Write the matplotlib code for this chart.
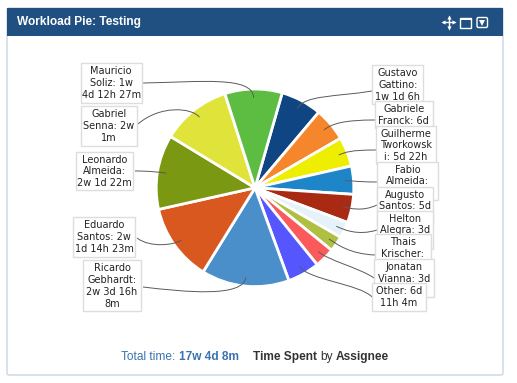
import numpy as np
import matplotlib
matplotlib.use('Agg')
import matplotlib.pyplot as plt
from matplotlib.patches import Rectangle, FancyBboxPatch, PathPatch
from matplotlib.path import Path

W, H = 517, 383

# hours per assignee, clockwise (hidden parts of clipped labels are estimated)
hours = [198, 162, 142, 136, 137, 78, 75, 97, 155.07, 424.13, 374.4, 360, 336, 276.45]
colors = ['#0f4583', '#f6862b', '#eeee00', '#1e86c8', '#a92a12', '#e6f2fa', '#afbf42',
          '#fb5a5a', '#5656ff', '#4a8fca', '#d9581f', '#7a9812', '#e0e33a', '#5dbd42']
labels = ['Gustavo\nGattino:\n1w 1d 6h', 'Gabriele\nFranck: 6d', 'Guilherme\nTworkowsk\ni: 5d 22h',
          'Fabio\nAlmeida:', 'Augusto\nSantos: 5d', 'Helton\nAlegra: 3d', 'Thais\nKrischer:',
          'Jonatan\nVianna: 3d', 'Other: 6d\n11h 4m', 'Ricardo\nGebhardt:\n2w 3d 16h\n8m',
          'Eduardo\nSantos: 2w\n1d 14h 23m', 'Leonardo\nAlmeida:\n2w 1d 22m', 'Gabriel\nSenna: 2w\n1m',
          'Mauricio\nSoliz: 1w\n4d 12h 27m']

# label boxes in pixels from top left: left, top, right, bottom
boxes = [(372.3, 65, 423.3, 104), (375, 101, 432.7, 128), (376, 125.7, 435.7, 164),
         (377.3, 161.7, 438.3, 200), (376.7, 186.7, 433.3, 225), (376.7, 210.7, 433.3, 249),
         (375, 234.3, 430.7, 273), (374, 259.3, 434, 297.3), (372.3, 283.3, 425.7, 310.7),
         (83.3, 260.3, 140.7, 310.7), (73.3, 217.3, 134.7, 256.7), (76.3, 151.7, 133.3, 190),
         (80.7, 106.3, 136.7, 145.7), (80.7, 63.3, 141.7, 102.7)]
# where each leader line meets its box, and the bend just before it
leader_ends = [(372, 91), (375, 120), (376, 150), (377, 182), (377, 205), (377, 230), (375, 255),
               (374, 278), (372, 297), (143, 287), (137, 238), (135, 171), (138, 124), (143, 83)]
leader_bends = [(335, 97), (345, 120), (350, 150), (355, 182), (362, 212), (358, 236), (350, 254),
                (360, 268), (360, 284), (185, 292), (150, 248), (150, 171), (160, 105), (200, 82)]

cx, cy, radius = 255, 383 - 187.8, 98.8

fig = plt.figure(figsize=(W / 100, H / 100), dpi=100)
ax = fig.add_axes([0, 0, 1, 1])


def py(y):
    return H - y


# pie, starting from the Gustavo slice edge
wedges, _ = ax.pie(hours, colors=colors, startangle=74, counterclock=False, center=(cx, cy),
                   radius=radius, wedgeprops={'edgecolor': 'white', 'linewidth': 2, 'zorder': 3},
                   frame=True)
ax.set_xlim(0, W)
ax.set_ylim(0, H)
ax.set_aspect('auto')
ax.axis('off')

# panel
ax.add_patch(FancyBboxPatch((7, py(375)), 496, 367, boxstyle='round,pad=0,rounding_size=2',
                            fc='white', ec='#c8d6e4', lw=1, zorder=0))
ax.add_patch(Rectangle((7, py(36)), 496, 28, fc='#205081', ec='none', zorder=1))
ax.text(17, py(22), 'Workload Pie: Testing', color='white', fontsize=8.6, fontweight='bold',
        family='Liberation Sans', va='center', zorder=2)

# header icons
ax.plot([443, 454], [py(22), py(22)], color='white', lw=1, zorder=2)
ax.plot([448.5, 448.5], [py(16.5), py(27.5)], color='white', lw=1, zorder=2)
for x, y, m in [(443, 22, '<'), (454, 22, '>'), (448.5, 16.5, '^'), (448.5, 27.5, 'v')]:
    ax.plot(x, py(y), marker=m, color='white', ms=3, mew=0, zorder=2)
ax.add_patch(Rectangle((460, py(27.5)), 10.5, 10, fc='none', ec='white', lw=1, zorder=2))
ax.add_patch(Rectangle((460, py(20)), 10.5, 2.5, fc='white', ec='none', zorder=2))
ax.add_patch(FancyBboxPatch((477, py(27.5)), 10.5, 10, boxstyle='round,pad=0,rounding_size=1.5',
                            fc='none', ec='white', lw=1, zorder=2))
ax.plot(482.2, py(22.5), marker='v', color='white', ms=4, mew=0, zorder=2)

# leaders
for i, w in enumerate(wedges):
    ang = np.radians((w.theta1 + w.theta2) / 2)
    ux, uy = np.cos(ang), np.sin(ang)
    x0 = cx + 0.91 * radius * ux
    y0 = cy + 0.91 * radius * uy
    bx, by = leader_bends[i][0], py(leader_bends[i][1])
    ex, ey = leader_ends[i][0], py(leader_ends[i][1])
    dist = np.hypot(ex - x0, ey - y0)
    verts = [(x0, y0), (x0 + ux * dist * 0.2, y0 + uy * dist * 0.2), (bx, by), (ex, ey)]
    path = Path(verts, [Path.MOVETO, Path.CURVE4, Path.CURVE4, Path.CURVE4])
    ax.add_patch(PathPatch(path, fc='none', ec='#5a5a5a', lw=0.7, zorder=5))

# label boxes, later ones sit on top on the right side
for i, (l, t, r, b) in enumerate(boxes):
    z = 6 + i * 0.1 if i < 9 else 6
    ax.add_patch(Rectangle((l, py(b)), r - l, b - t, fc='white', ec='#dddddd', lw=1, zorder=z))
    ax.text((l + r) / 2, py(t + 3), labels[i], ha='center', va='top', fontsize=7,
            linespacing=1.22, color='#222222', family='DejaVu Sans', zorder=z + 0.01)

# footer
foot = dict(fontsize=8.6, family='Liberation Sans', va='center')
ax.text(121, py(357), 'Total time:', color='#3b73af', **foot)
ax.text(179, py(357), '17w 4d 8m', color='#3b73af', fontweight='bold', **foot)
ax.text(253, py(357), 'Time Spent', color='#333333', fontweight='bold', **foot)
ax.text(320, py(357), 'by', color='#333333', **foot)
ax.text(336, py(357), 'Assignee', color='#333333', fontweight='bold', **foot)

fig.savefig('out.png', dpi=100)
